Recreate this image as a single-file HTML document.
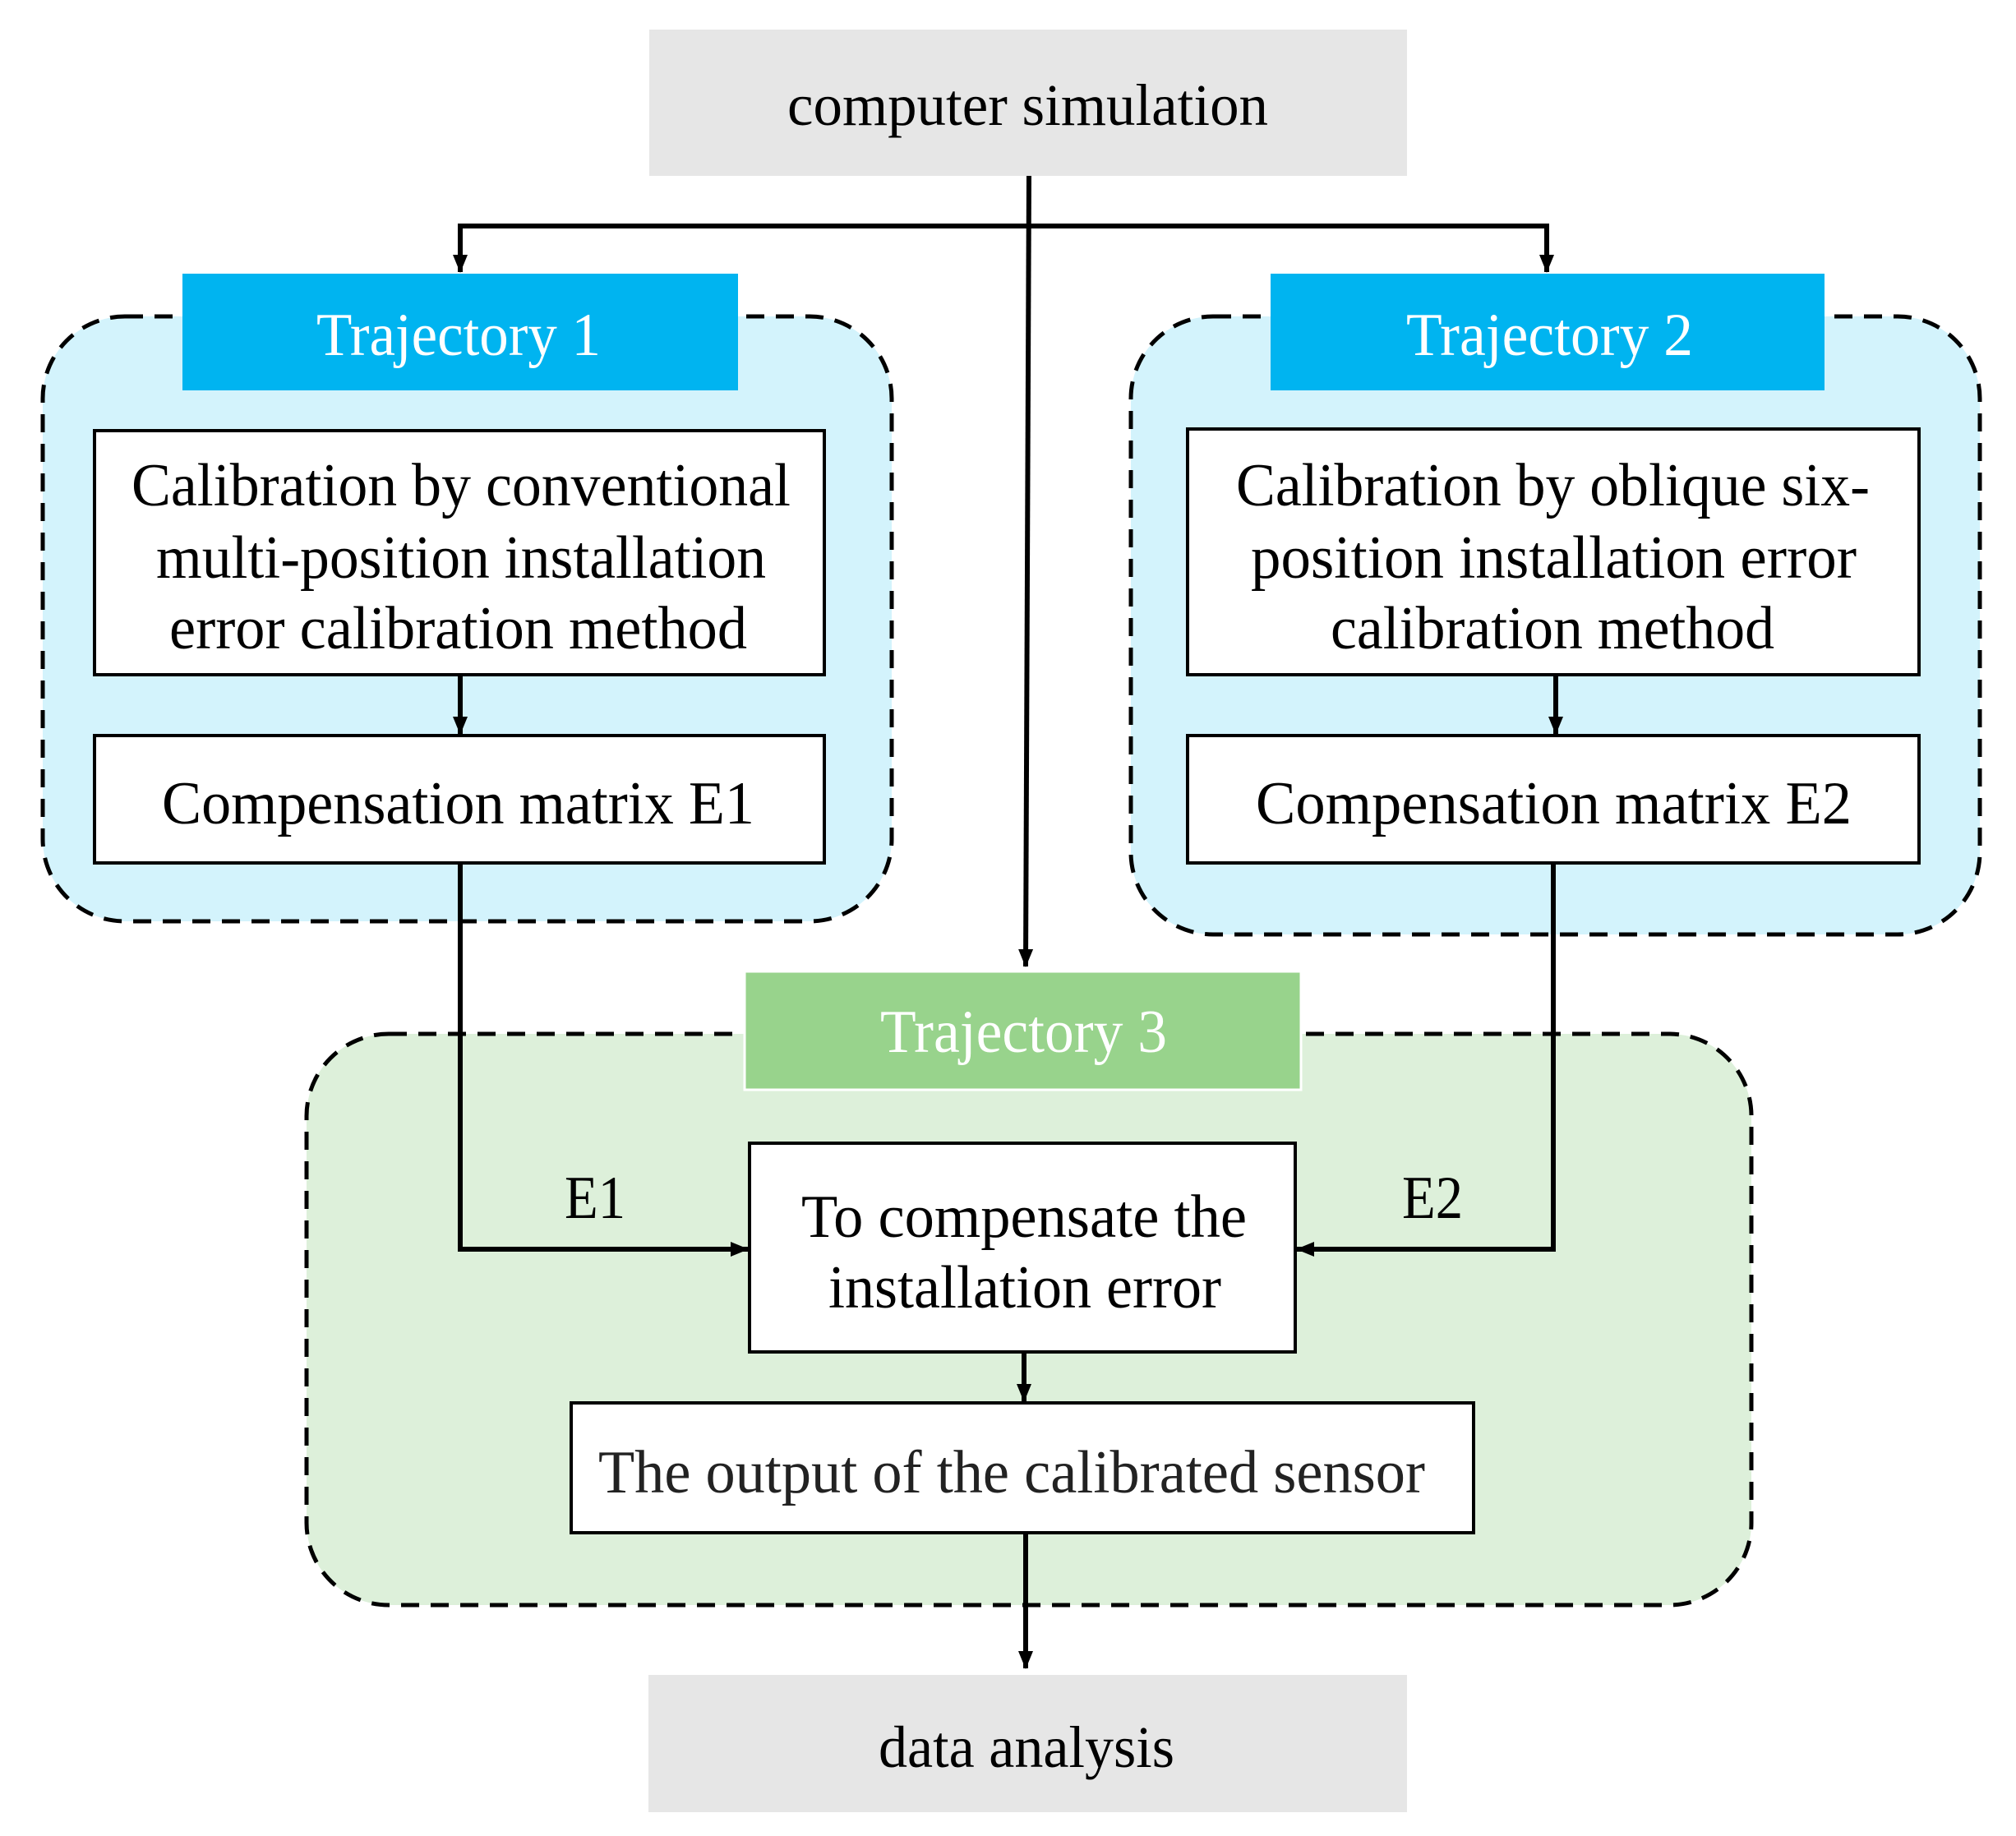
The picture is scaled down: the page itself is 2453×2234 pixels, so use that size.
<!DOCTYPE html>
<html><head><meta charset="utf-8"><style>
html,body{margin:0;padding:0;background:#fff;}
svg{display:block;}
text{font-family:"Liberation Serif",serif;}
</style></head><body>
<svg width="2453" height="2234" viewBox="0 0 2453 2234" xmlns="http://www.w3.org/2000/svg">
<defs>
<marker id="ah" markerWidth="22" markerHeight="22" refX="21" refY="11" orient="auto" markerUnits="userSpaceOnUse" viewBox="0 0 22 22">
<path d="M0,2 L22,11 L0,20 z" fill="#000"/>
</marker>
</defs>
<rect x="0" y="0" width="2453" height="2234" fill="#fff"/>
<!-- regions -->
<rect x="52" y="385" width="1033" height="736" rx="100" fill="#d3f3fc" stroke="#000" stroke-width="5" stroke-dasharray="22,14"/>
<rect x="1376" y="385" width="1033" height="752" rx="100" fill="#d3f3fc" stroke="#000" stroke-width="5" stroke-dasharray="22,14"/>
<rect x="373" y="1258" width="1758" height="695" rx="100" fill="#ddf0da" stroke="#000" stroke-width="5" stroke-dasharray="22,14"/>
<!-- top box -->
<rect x="790" y="36" width="922" height="178" fill="#e6e6e6"/>
<text x="958" y="152" font-size="72" textLength="585" lengthAdjust="spacingAndGlyphs">computer simulation</text>
<!-- headers -->
<rect x="222" y="333" width="676" height="142" fill="#00b4f0"/>
<text x="385" y="432" font-size="74" fill="#fff" textLength="346" lengthAdjust="spacingAndGlyphs">Trajectory 1</text>
<rect x="1546" y="333" width="674" height="142" fill="#00b4f0"/>
<text x="1711" y="432" font-size="74" fill="#fff" textLength="349" lengthAdjust="spacingAndGlyphs">Trajectory 2</text>
<rect x="906" y="1182" width="677" height="144" fill="#98d38c" stroke="#fff" stroke-width="3"/>
<text x="1071" y="1280" font-size="74" fill="#fff" textLength="349" lengthAdjust="spacingAndGlyphs">Trajectory 3</text>
<!-- left boxes -->
<rect x="115" y="524" width="888" height="297" fill="#fff" stroke="#000" stroke-width="4"/>
<text x="160" y="615" font-size="74" textLength="802" lengthAdjust="spacingAndGlyphs">Calibration  by conventional</text>
<text x="190" y="703" font-size="74" textLength="742" lengthAdjust="spacingAndGlyphs">multi-position  installation</text>
<text x="206" y="789" font-size="74" textLength="703" lengthAdjust="spacingAndGlyphs">error calibration  method</text>
<rect x="115" y="895" width="888" height="155" fill="#fff" stroke="#000" stroke-width="4"/>
<text x="197" y="1002" font-size="74" textLength="721" lengthAdjust="spacingAndGlyphs">Compensation  matrix E1</text>
<!-- right boxes -->
<rect x="1445" y="522" width="890" height="299" fill="#fff" stroke="#000" stroke-width="4"/>
<text x="1504" y="615" font-size="74" textLength="771" lengthAdjust="spacingAndGlyphs">Calibration  by oblique six-</text>
<text x="1522" y="703" font-size="74" textLength="737" lengthAdjust="spacingAndGlyphs">position  installation  error</text>
<text x="1619" y="789" font-size="74" textLength="540" lengthAdjust="spacingAndGlyphs">calibration  method</text>
<rect x="1445" y="895" width="890" height="155" fill="#fff" stroke="#000" stroke-width="4"/>
<text x="1528" y="1002" font-size="74" textLength="725" lengthAdjust="spacingAndGlyphs">Compensation  matrix E2</text>
<!-- trajectory 3 boxes -->
<rect x="912" y="1391" width="664" height="254" fill="#fff" stroke="#000" stroke-width="4"/>
<text x="975" y="1505" font-size="74" textLength="542" lengthAdjust="spacingAndGlyphs">To compensate the</text>
<text x="1008" y="1591" font-size="74" textLength="478" lengthAdjust="spacingAndGlyphs">installation  error</text>
<rect x="695" y="1707" width="1098" height="158" fill="#fff" stroke="#000" stroke-width="4"/>
<text x="728" y="1816" font-size="74" fill="#222" textLength="1006" lengthAdjust="spacingAndGlyphs">The output of the calibrated  sensor</text>
<text x="687" y="1482" font-size="74" textLength="74" lengthAdjust="spacingAndGlyphs">E1</text>
<text x="1706" y="1482" font-size="74" textLength="74" lengthAdjust="spacingAndGlyphs">E2</text>
<!-- bottom box -->
<rect x="789" y="2038" width="923" height="167" fill="#e6e6e6"/>
<text x="1069" y="2150" font-size="72" textLength="360" lengthAdjust="spacingAndGlyphs">data analysis</text>
<!-- connectors -->
<g stroke="#000" stroke-width="6" fill="none">
<line x1="1252" y1="214" x2="1248" y2="1176" marker-end="url(#ah)"/>
<polyline points="560,312 560,275 1882,275 1882,312"/>
<line x1="560" y1="300" x2="560" y2="331" marker-end="url(#ah)"/>
<line x1="1882" y1="300" x2="1882" y2="331" marker-end="url(#ah)"/>
<line x1="560" y1="821" x2="560" y2="893" marker-end="url(#ah)"/>
<line x1="1893" y1="821" x2="1893" y2="893" marker-end="url(#ah)"/>
<polyline points="560,1050 560,1520 910,1520" marker-end="url(#ah)"/>
<polyline points="1890,1050 1890,1520 1578,1520" marker-end="url(#ah)"/>
<line x1="1246" y1="1645" x2="1246" y2="1705" marker-end="url(#ah)"/>
<line x1="1248" y1="1865" x2="1248" y2="2030" marker-end="url(#ah)"/>
</g>
</svg>
</body></html>
